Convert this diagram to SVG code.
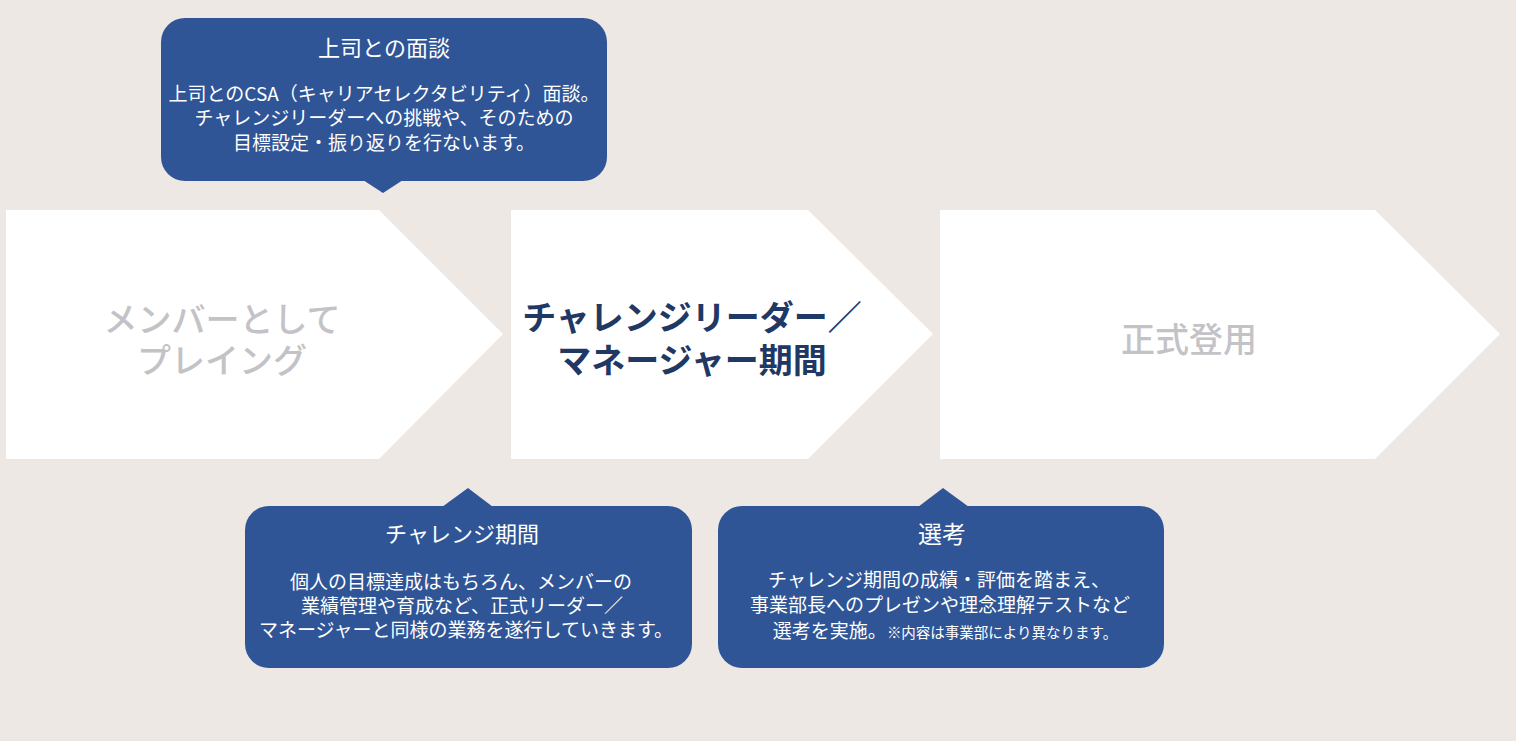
<svg xmlns="http://www.w3.org/2000/svg" width="1516" height="741" viewBox="0 0 1516 741">
<style>
.bg{fill:#ede8e4}
.chev{fill:#ffffff}
.bub{fill:#2f5597}
.lbl{font-family:"Noto Sans CJK JP","Noto Sans",sans-serif;text-anchor:middle;font-size:34px}
.grey{fill:#c3c3c7;font-weight:500}
.navy{fill:#1f3864;font-weight:600}
.ttl{font-family:"Noto Sans CJK JP","Noto Sans",sans-serif;text-anchor:middle;fill:#ffffff;font-size:22px}
.body{font-family:"Noto Sans CJK JP","Noto Sans",sans-serif;text-anchor:middle;fill:#ffffff;font-size:19px}
.small{font-size:14.5px}
</style>
<rect class="bg" x="0" y="0" width="1516" height="741"/>
<g id="step1">
<polygon class="chev" points="6,210 379,210 503,334 379,459 6,459"/>
<text class="lbl grey" x="222" y="332">メンバーとして<tspan x="222" dy="41">プレイング</tspan></text>
</g>
<g id="step2">
<polygon class="chev" points="511,210 808,210 933,334 808,459 511,459"/>
<text class="lbl navy" x="692" y="330">チャレンジリーダー／<tspan x="692" dy="43">マネージャー期間</tspan></text>
</g>
<g id="step3">
<polygon class="chev" points="940,210 1375,210 1500,334 1375,459 940,459"/>
<text class="lbl grey" x="1189" y="352">正式登用</text>
</g>
<g id="callout-interview">
<rect class="bub" x="161" y="18" width="446" height="163" rx="24"/>
<polygon class="bub" points="363,180 403,180 383,193"/>
<text class="ttl" x="384" y="56">上司との面談</text>
<text class="body" x="384" y="101">上司とのCSA（キャリアセレクタビリティ）面談。</text>
<text class="body" x="384" y="125">チャレンジリーダーへの挑戦や、そのための</text>
<text class="body" x="384" y="150">目標設定・振り返りを行ないます。</text>
</g>
<g id="callout-challenge">
<polygon class="bub" points="442,507 493,507 468,488"/>
<rect class="bub" x="245" y="506" width="447" height="162" rx="24"/>
<text class="ttl" x="462" y="542">チャレンジ期間</text>
<text class="body" x="461" y="589">個人の目標達成はもちろん、メンバーの</text>
<text class="body" x="462" y="613">業績管理や育成など、正式リーダー／</text>
<text class="body" x="466" y="637">マネージャーと同様の業務を遂行していきます。</text>
</g>
<g id="callout-selection">
<polygon class="bub" points="918,507 969,507 943,488"/>
<rect class="bub" x="718" y="506" width="446" height="162" rx="24"/>
<text class="ttl" x="942" y="543" style="font-size:24px">選考</text>
<text class="body" x="939" y="587">チャレンジ期間の成績・評価を踏まえ、</text>
<text class="body" x="940" y="612">事業部長へのプレゼンや理念理解テストなど</text>
<text class="body" x="945" y="638">選考を実施。<tspan class="small">※内容は事業部により異なります。</tspan></text>
</g>
<g id="connectors"/>
</svg>
